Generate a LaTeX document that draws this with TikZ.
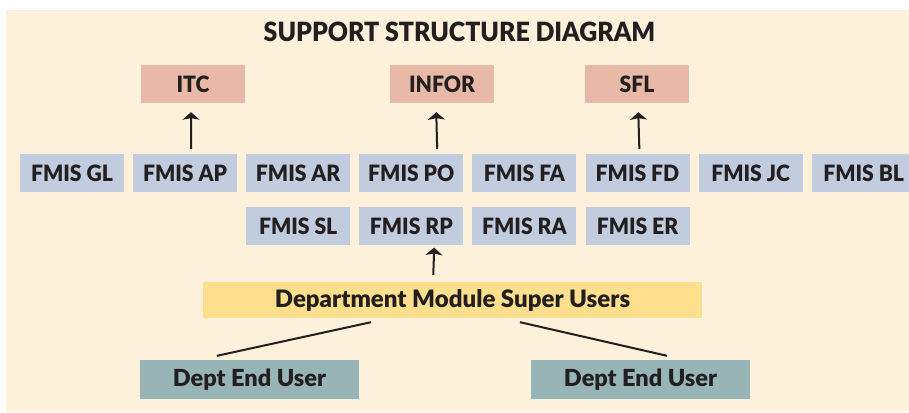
\documentclass[tikz,border=0pt]{standalone}
\usepackage{fontspec}
\setmainfont{Lato}[UprightFont={* Black},BoldFont={* Black}]
\newfontfamily\narrowfont{Lato}[UprightFont={* Black},BoldFont={* Black},FakeStretch=0.94]
\usetikzlibrary{arrows.meta,positioning}
\definecolor{cream}{RGB}{254,241,219}
\definecolor{vendorred}{RGB}{232,185,167}
\definecolor{modblue}{RGB}{193,205,222}
\definecolor{superyellow}{RGB}{254,223,141}
\definecolor{userteal}{RGB}{151,181,182}
\definecolor{ink}{RGB}{35,31,32}

\begin{document}
\begin{tikzpicture}[x=1pt, y=-1pt, node distance=8.7pt and 8.7pt,
	every node/.style={text=ink, inner sep=0pt},
	fmis/.style={fill=modblue, minimum width=104pt, minimum height=38pt, font=\narrowfont\fontsize{22.5}{22.5}\selectfont},
	vendor/.style={fmis, fill=vendorred},
	users/.style={minimum height=39pt, font=\fontsize{23.5}{23.5}\selectfont},
	link/.style={line width=2pt, draw=ink},
	uparrow/.style={link, arrows={-Stealth[length=7.5pt 0, width=17pt 0, inset=1.5pt 0]}}]
		\useasboundingbox (0,0) rectangle (909,412);
		\fill[cream] (6,10) rectangle (909,412);
		
		\node[font=\narrowfont\fontsize{26.5}{26.5}\selectfont] (title) at (459.5,32) {SUPPORT STRUCTURE DIAGRAM};
		
		\node[vendor] (itc) at (193,84) {ITC};
		\node[vendor] (infor) at (442,84) {INFOR};
		\node[vendor] (sfl) at (637,84) {SFL};
		
		\node[fmis] (gl) at (72,173) {FMIS GL};
		\node[fmis,right=of gl] (ap) {FMIS AP};
		\node[fmis,right=of ap] (ar) {FMIS AR};
		\node[fmis,right=of ar] (po) {FMIS PO};
		\node[fmis,right=of po] (fa) {FMIS FA};
		\node[fmis,right=of fa] (fd) {FMIS FD};
		\node[fmis,right=of fd] (jc) {FMIS JC};
		\node[fmis,right=of jc] (bl) {FMIS BL};
		
		\node[fmis,below=15pt of ar] (sl) {FMIS SL};
		\node[fmis,right=of sl] (rp) {FMIS RP};
		\node[fmis,right=of rp] (ra) {FMIS RA};
		\node[fmis,right=of ra] (er) {FMIS ER};
		
		\node[users,fill=superyellow,minimum width=499pt,minimum height=36pt,font=\fontsize{24}{24}\selectfont] (super) at (452.5,300) {Department Module Super Users};
		\node[users,fill=userteal,minimum width=219pt] (deptl) at (249.5,379.5) {Dept End User};
		\node[users,fill=userteal,minimum width=219pt] (deptr) at (640.5,379.5) {Dept End User};
		
		\draw[uparrow,shorten <=5pt,shorten >=9pt] ([xshift=6pt]ap.north) -- ([xshift=-2pt]itc.south);
		\draw[uparrow,shorten <=5pt,shorten >=9pt] ([xshift=26pt]po.north) -- ([xshift=-6pt]infor.south);
		\draw[uparrow,shorten <=5pt,shorten >=9pt] ([xshift=2pt]fd.north) -- ([xshift=1pt]sfl.south);
		\draw[uparrow,shorten <=7pt,shorten >=2pt] ([xshift=-19.5pt]super.north) -- ([xshift=23pt]rp.south);
		
		\draw[link] ([xshift=-81.5pt,yshift=-4pt]super.south) -- ([xshift=-32.5pt,yshift=4pt]deptl.north);
		\draw[link] ([xshift=67.5pt,yshift=-4pt]super.south) -- ([xshift=26.5pt,yshift=4pt]deptr.north);
	\end{tikzpicture}
\end{document}
